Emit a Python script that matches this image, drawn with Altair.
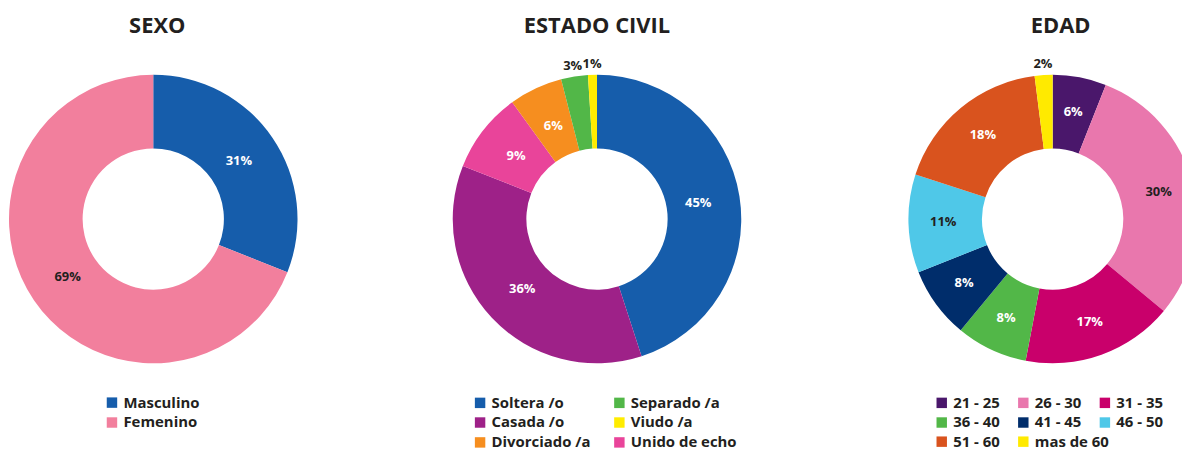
import altair as alt
import pandas as pd

FONT = "Open Sans"
INK = "#231f20"

# ---- data ----
SEXO_CATS = ["Masculino", "Femenino"]            # clockwise from 12 o'clock
SEXO_VALS = [31, 69]
SEXO_LEGEND = ["Masculino", "Femenino"]
SEXO_COLORS = ["#165dab", "#f27f9d"]

CIVIL_CATS = ["Soltera /o", "Casada /o", "Unido de echo", "Divorciado /a", "Separado /a", "Viudo /a"]
CIVIL_VALS = [45, 36, 9, 6, 3, 1]
CIVIL_LEGEND = ["Soltera /o", "Separado /a", "Casada /o", "Viudo /a", "Divorciado /a", "Unido de echo"]
CIVIL_COLORS = ["#165dab", "#52b748", "#9e2188", "#ffec00", "#f68e1f", "#e9449a"]

EDAD_CATS = ["21 - 25", "26 - 30", "31 - 35", "36 - 40", "41 - 45", "46 - 50", "51 - 60", "mas de 60"]
EDAD_VALS = [6, 30, 17, 8, 8, 11, 18, 2]
EDAD_LEGEND = EDAD_CATS
EDAD_COLORS = ["#4a176b", "#e977ad", "#c9006b", "#52b748", "#002d6b", "#4fc8e8", "#d9531e", "#ffea00"]

DARK_LABELS = ["Femenino", "26 - 30", "46 - 50"]

H = 370
CY = 168
LEGEND_Y = 345
ROW_PAD = 4
ROW_STEP = 19.5


def legend(x, y, columns, col_pad, values=None):
    kw = dict(
        title=None, orient="none", legendX=x, legendY=y,
        columns=columns, direction="horizontal",
        symbolType="square", symbolSize=110, symbolStrokeWidth=0, symbolOpacity=1,
        labelFont=FONT, labelFontSize=15, labelFontWeight="bold",
        labelColor=INK, labelOffset=4, rowPadding=ROW_PAD,
        columnPadding=col_pad, labelLimit=300,
    )
    if values is not None:
        kw["values"] = values
    return alt.Legend(**kw)


def donut(title, cats, vals, legend_order, colors, width, cx, title_dx,
          legend_x, columns, label_r, col_pad, split=None):
    df = pd.DataFrame({"cat": cats, "val": vals, "ord": list(range(len(cats)))})
    df["cat2"] = df["cat"]
    df["inner"] = [f"{v}%" if v >= 5 else "" for v in vals]
    df["outer"] = [f"{v}%" if v < 5 else "" for v in vals]
    base = alt.Chart(df).encode(
        theta=alt.Theta("val:Q", stack=True),
        order=alt.Order("ord:Q"),
        x=alt.value(cx),
        y=alt.value(CY),
    )
    scale = alt.Scale(domain=legend_order, range=colors)
    layers = []
    if split is None:
        layers.append(base.mark_arc(innerRadius=71, outerRadius=145).encode(
            color=alt.Color("cat:N", scale=scale,
                            legend=legend(legend_x, LEGEND_Y, columns, col_pad))
        ))
    else:
        first, rest = legend_order[:split], legend_order[split:]
        rows_first = -(-split // columns)
        layers.append(base.mark_arc(innerRadius=71, outerRadius=145).encode(
            fill=alt.Fill("cat:N", scale=scale,
                          legend=legend(legend_x, LEGEND_Y, columns, col_pad, first))
        ))
        # invisible copy of the ring, only to carry the legend's last row
        layers.append(base.mark_arc(innerRadius=71, outerRadius=145, opacity=0).encode(
            color=alt.Color("cat2:N",
                            scale=alt.Scale(domain=rest, range=colors[split:]),
                            legend=legend(legend_x, LEGEND_Y + rows_first * ROW_STEP,
                                          columns, col_pad, rest))
        ))
    inner = base.mark_text(radius=label_r, font=FONT, fontSize=13, fontWeight="bold").encode(
        text="inner:N",
        detail="cat:N",
        color=alt.condition(
            alt.FieldOneOfPredicate(field="cat", oneOf=DARK_LABELS),
            alt.value(INK), alt.value("white"),
        ),
    )
    outer = base.mark_text(radius=156, font=FONT, fontSize=13, fontWeight="bold").encode(
        text="outer:N",
        detail="cat:N",
        color=alt.value(INK),
    )
    layers += [inner, outer]
    return alt.layer(*layers).properties(
        width=width, height=H,
        title=alt.TitleParams(title, font=FONT, fontSize=22, fontWeight="bold",
                              color=INK, anchor="middle", dx=title_dx, offset=14),
    )


c1 = donut("SEXO", SEXO_CATS, SEXO_VALS, SEXO_LEGEND, SEXO_COLORS, 292, 146, 4, 97, 1, 104, 18)
c2 = donut("ESTADO CIVIL", CIVIL_CATS, CIVIL_VALS, CIVIL_LEGEND, CIVIL_COLORS, 600, 300, 0, 175, 2, 103, 21)
c3 = donut("EDAD", EDAD_CATS, EDAD_VALS, EDAD_LEGEND, EDAD_COLORS, 282, 158, 25, 39, 3, 110, 16, split=6)

chart = alt.hconcat(c1, c2, c3, spacing=0).resolve_scale(
    color="independent", fill="independent", theta="independent"
).properties(
    padding={"left": 0, "right": -22, "top": 6, "bottom": 0},
).configure_view(stroke=None)

chart.save("out.html", embed_options={"renderer": "svg", "actions": False})
